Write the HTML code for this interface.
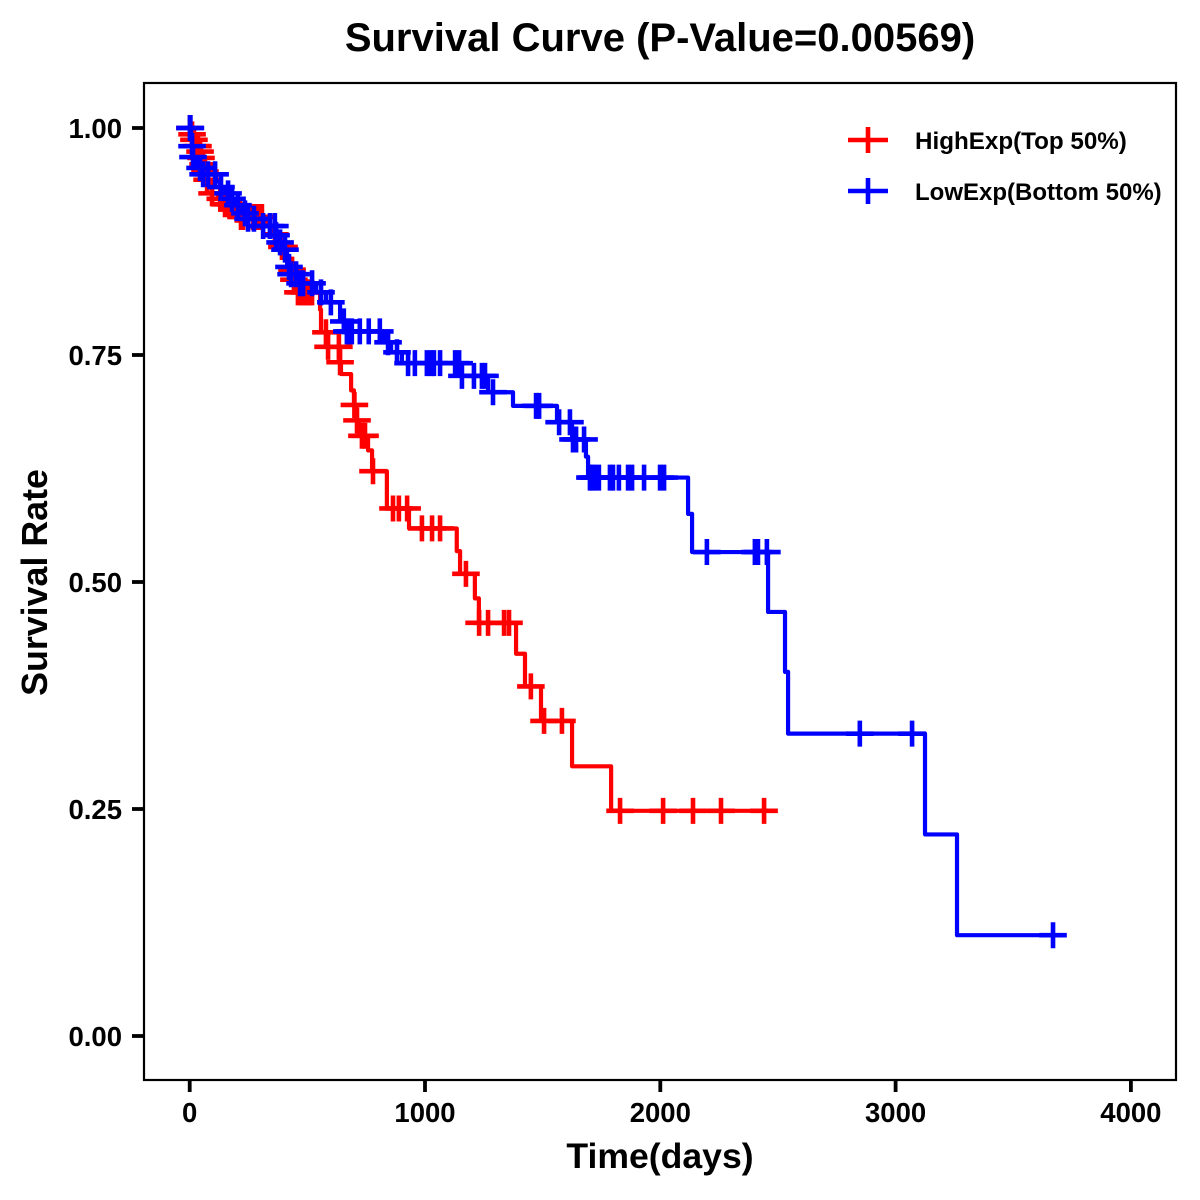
<!DOCTYPE html>
<html>
<head>
<meta charset="utf-8">
<title>Survival Curve</title>
<style>
html,body{margin:0;padding:0;background:#fff;width:1200px;height:1200px;overflow:hidden}
svg{display:block}
text{font-family:"Liberation Sans",Arial,sans-serif;font-weight:bold;fill:#000}
</style>
</head>
<body>
<svg id="chart" xmlns="http://www.w3.org/2000/svg" width="1200" height="1200" viewBox="0 0 1200 1200">
  <rect x="0" y="0" width="1200" height="1200" fill="#fff"/>
  <text x="660" y="51" text-anchor="middle" font-size="40">Survival Curve (P-Value=0.00569)</text>
  <g id="ticks"></g>
  <g id="series-high"></g>
  <g id="series-low"></g>
  <rect x="144" y="83" width="1032" height="997" fill="none" stroke="#000" stroke-width="2.2"/>
  <text x="660" y="1168" text-anchor="middle" font-size="35.6">Time(days)</text>
  <text transform="translate(47,582.5) rotate(-90)" text-anchor="middle" font-size="35.8">Survival Rate</text>
  <g>
    <g>
      <path d="M848 140H888M868 127V153" stroke="#ff0000" stroke-width="4.6" fill="none"/>
      <text x="915" y="149" font-size="24.2">HighExp(Top 50%)</text>
    </g>
    <g>
      <path d="M848 191H888M868 178V204" stroke="#0000ff" stroke-width="4.6" fill="none"/>
      <text x="915" y="200" font-size="24">LowExp(Bottom 50%)</text>
    </g>
  </g>
</svg>
<script>
const xTicks = [0, 1000, 2000, 3000, 4000];
const yTicks = [0, 0.25, 0.5, 0.75, 1];
const yTickLabels = ["0.00", "0.25", "0.50", "0.75", "1.00"];

const highTimes = [0,10,18,27,40,48,57,65,74,86,95,120,146,188,218,324,350,375,392,409,426,435,443,460,554,558,583,637,643,686,698,707,719,758,775,838,932,1135,1149,1212,1229,1387,1425,1493,1625,1791];
const highSurvival = [1,.993,.987,.980,.974,.967,.960,.952,.943,.935,.928,.922,.916,.910,.902,.892,.883,.877,.869,.857,.850,.844,.833,.819,.800,.775,.759,.742,.729,.711,.695,.678,.661,.645,.622,.581,.559,.534,.509,.482,.455,.421,.385,.347,.297,.248];
const highCensored = [1,10,18,27,31,35,44,48,57,65,74,95,130,141,150,165,180,200,213,218,226,248,270,280,291,300,307,362,392,401,435,443,460,470,481,490,500,511,520,579,588,634,639,700,711,732,745,779,864,889,924,987,1030,1064,1174,1230,1268,1336,1357,1450,1506,1582,1829,2012,2139,2258,2441];

const lowTimes = [0,6,10,14,31,52,112,129,150,171,197,222,244,278,365,375,397,414,426,460,537,579,639,664,826,856,902,1149,1268,1374,1561,1625,1684,1693,2118,2135,2458,2530,2543,3125,3261];
const lowSurvival = [1,.993,.980,.968,.956,.949,.941,.935,.928,.922,.915,.906,.900,.892,.882,.874,.866,.847,.839,.829,.819,.808,.787,.776,.764,.753,.741,.727,.709,.694,.676,.657,.638,.615,.575,.533,.467,.401,.333,.222,.111];
const lowCensored = [1,3,10,14,44,57,78,108,133,163,180,205,235,248,273,312,341,362,367,384,405,422,431,452,469,482,520,558,600,655,668,677,689,723,761,808,843,881,928,957,1008,1026,1038,1064,1128,1145,1157,1208,1242,1255,1289,1472,1485,1570,1616,1629,1642,1676,1701,1710,1722,1739,1786,1799,1824,1863,1880,1931,1999,2016,2198,2402,2415,2453,2848,3070,3669];

const NS = 'http://www.w3.org/2000/svg';
function xScale(t) { return 189.7 + t * 0.2353; }
function yScale(s) { return 1036 - s * 908; }

function survivalAt(times, surv, t) {
  let v = surv[0];
  for (let i = 0; i < times.length && i < surv.length; i++) {
    if (times[i] <= t) v = surv[i];
  }
  return v;
}

function drawSeries(groupId, times, surv, censored, color) {
  const g = document.getElementById(groupId);
  const n = Math.min(times.length, surv.length);
  const last = censored[censored.length - 1];
  let d = 'M' + xScale(times[0]).toFixed(2) + ' ' + yScale(surv[0]).toFixed(2);
  for (let i = 1; i < n; i++) {
    d += 'H' + xScale(times[i]).toFixed(2) + 'V' + yScale(surv[i]).toFixed(2);
  }
  d += 'H' + xScale(last).toFixed(2);
  const line = document.createElementNS(NS, 'path');
  
  
  line.setAttribute('d', d);
  line.setAttribute('fill', 'none');
  line.setAttribute('stroke', color);
  line.setAttribute('stroke-width', '4.2');
  line.setAttribute('stroke-linejoin', 'round');
  g.appendChild(line);
  censored.forEach(function (t) {
    const cx = xScale(t);
    const cy = yScale(survivalAt(times, surv, t));
    const mark = document.createElementNS(NS, 'path');
    
    
    mark.setAttribute('d', 'M' + (cx - 13.8).toFixed(2) + ' ' + cy.toFixed(2) + 'H' + (cx + 13.8).toFixed(2) + 'M' + cx.toFixed(2) + ' ' + (cy - 13).toFixed(2) + 'V' + (cy + 13).toFixed(2));
    mark.setAttribute('fill', 'none');
    mark.setAttribute('stroke', color);
    mark.setAttribute('stroke-width', '4.6');
    g.appendChild(mark);
  });
}

const tickGroup = document.getElementById('ticks');
xTicks.forEach(function (t) {
  const tick = document.createElementNS(NS, 'line');
  
  
  tick.setAttribute('x1', xScale(t));
  tick.setAttribute('x2', xScale(t));
  tick.setAttribute('y1', 1080);
  tick.setAttribute('y2', 1092);
  tick.setAttribute('stroke', '#000');
  tick.setAttribute('stroke-width', '3.8');
  tickGroup.appendChild(tick);
  const label = document.createElementNS(NS, 'text');
  
  
  label.setAttribute('x', xScale(t));
  label.setAttribute('y', 1122);
  label.setAttribute('text-anchor', 'middle');
  label.setAttribute('font-size', '27.5');
  label.textContent = String(t);
  tickGroup.appendChild(label);
});
yTicks.forEach(function (s, i) {
  const tick = document.createElementNS(NS, 'line');
  
  
  tick.setAttribute('x1', 132);
  tick.setAttribute('x2', 144);
  tick.setAttribute('y1', yScale(s));
  tick.setAttribute('y2', yScale(s));
  tick.setAttribute('stroke', '#000');
  tick.setAttribute('stroke-width', '3.8');
  tickGroup.appendChild(tick);
  const label = document.createElementNS(NS, 'text');
  
  
  label.setAttribute('x', 122);
  label.setAttribute('y', yScale(s) + 10);
  label.setAttribute('text-anchor', 'end');
  label.setAttribute('font-size', '27.5');
  label.textContent = yTickLabels[i];
  tickGroup.appendChild(label);
});

drawSeries('series-high', highTimes, highSurvival, highCensored, '#ff0000');
drawSeries('series-low', lowTimes, lowSurvival, lowCensored, '#0000ff');
</script>
</body>
</html>
